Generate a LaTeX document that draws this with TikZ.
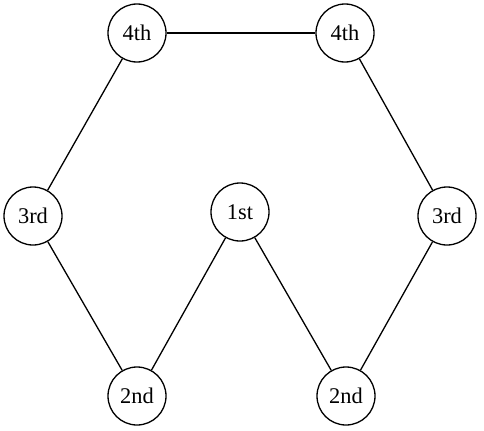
\documentclass[tikz,border=0pt]{standalone}
\usepackage{fontspec}
\setmainfont{Liberation Serif}
\begin{document}
\begin{tikzpicture}[x=1bp,y=1bp,
  stage/.style={circle,draw,line width=1.3bp,minimum size=58bp,inner sep=0pt,font=\fontsize{22.5}{24}\selectfont},
  link/.style={line width=1.3bp}]
\useasboundingbox (0,0) rectangle (484,430);
\node[stage] (a4) at (137,397) {4th};
\node[stage] (b4) at (345,397) {4th};
\node[stage] (a3) at (33,214) {3rd};
\node[stage] (c1) at (240,218) {1st};
\node[stage] (b3) at (447,214) {3rd};
\node[stage] (a2) at (137,34) {2nd};
\node[stage] (b2) at (346,34) {2nd};
\draw[link] (a4) -- (b4);
\draw[link] (a4) -- (a3);
\draw[link] (a3) -- (a2);
\draw[link] (a2) -- (c1);
\draw[link] (c1) -- (b2);
\draw[link] (b2) -- (b3);
\draw[link] (b3) -- (b4);
\end{tikzpicture}
\end{document}
